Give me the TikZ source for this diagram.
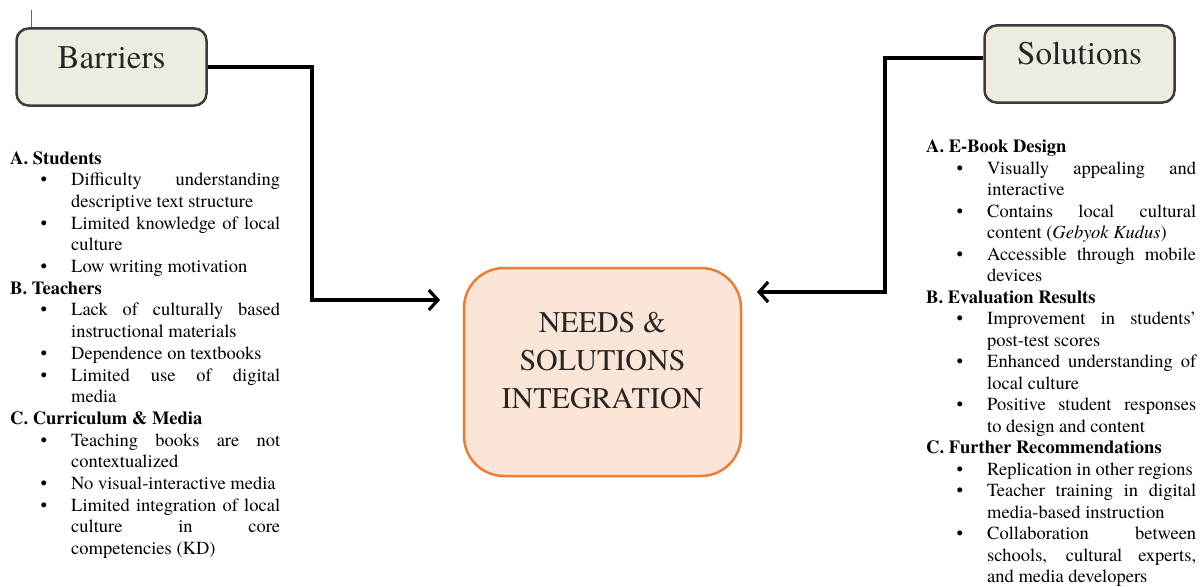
\documentclass[tikz,border=0pt]{standalone}
\usepackage{fontspec}
\setmainfont{TeX Gyre Termes}
\usetikzlibrary{arrows.meta}

\definecolor{titlefill}{HTML}{EEECE1}
\definecolor{titleline}{HTML}{3C3C3C}
\definecolor{needsfill}{HTML}{FBE5D6}
\definecolor{needsline}{HTML}{ED7D31}

% bullet list used in both columns
\newenvironment{pointlist}{%
  \begin{list}{\textbullet}{\setlength{\leftmargin}{61pt}\setlength{\labelsep}{24pt}%
    \setlength{\labelwidth}{10pt}\setlength{\itemsep}{0pt}\setlength{\parsep}{0pt}%
    \setlength{\topsep}{0pt}\setlength{\partopsep}{0pt}}}
  {\end{list}}

\begin{document}
\begin{tikzpicture}[x=1pt,y=-1pt,>={Straight Barb[length=9pt,width=20pt]},
    title box/.style={draw=titleline,line width=2.5pt,fill=titlefill,rounded corners=12pt,
      minimum width=190pt,minimum height=77pt,text=black!85,
      font=\fontsize{33}{38}\selectfont,text height=22pt,text depth=20pt},
    needs box/.style={draw=needsline,line width=2.5pt,fill=needsfill,rounded corners=40pt,
      minimum width=277pt,minimum height=208pt},
    needs text/.style={align=center,text=black!85,font=\fontsize{30}{38}\selectfont},
    list text/.style={anchor=north west,inner sep=0pt,font=\fontsize{18.5}{21.5}\selectfont},
    link/.style={->,line width=3.2pt}]

  \useasboundingbox (0,0) rectangle (1204,586);

  \draw[black!60,line width=1pt] (31,10) -- (31,32);

  \node[title box] (barriers) at (111.5,67) {Barriers};
  \node[title box] (solutions) at (1079.5,64) {Solutions};
  \node[needs box] (needs) at (602.5,372) {};
  \node[needs text] (needslabel) at (602.5,361) {NEEDS \&\\SOLUTIONS\\INTEGRATION};

  \coordinate (barturn) at (312,300);
  \coordinate (barend) at (440,300);
  \coordinate (solturn) at (885,292);
  \coordinate (solend) at (757,292);

  \draw[link] (barriers.east) -| (barturn) -- (barend);
  \draw[link] ([yshift=6pt]solutions.west) -| (solturn) -- (solend);

  \node[list text] (barrierlist) at (10,151) {\begin{minipage}{270pt}
    \fontsize{18.5}{21.7}\selectfont\hyphenpenalty=10000\exhyphenpenalty=10000
    \textbf{A. Students}
    \begin{pointlist}
      \item Difficulty understanding \linebreak descriptive text structure
      \item Limited knowledge of local \linebreak culture
      \item Low writing motivation
    \end{pointlist}
    \textbf{B. Teachers}
    \begin{pointlist}
      \item Lack of culturally based \linebreak instructional materials
      \item Dependence on textbooks
      \item Limited use of digital \linebreak media
    \end{pointlist}
    \textbf{C. Curriculum \& Media}
    \begin{pointlist}
      \item Teaching books are not \linebreak contextualized
      \item No visual-interactive media
      \item Limited integration of local \linebreak culture in core \linebreak competencies (KD)
    \end{pointlist}
  \end{minipage}};

  \node[list text] (solutionlist) at (926,140) {\begin{minipage}{270pt}
    \fontsize{18.5}{21.5}\selectfont\hyphenpenalty=10000\exhyphenpenalty=10000
    \textbf{A. E-Book Design}
    \begin{pointlist}
      \item Visually appealing and \linebreak interactive
      \item Contains local cultural \linebreak content (\textit{Gebyok Kudus})
      \item Accessible through mobile \linebreak devices
    \end{pointlist}
    \textbf{B. Evaluation Results}
    \begin{pointlist}
      \item Improvement in students' \linebreak post-test scores
      \item Enhanced understanding of \linebreak local culture
      \item Positive student responses \linebreak to design and content
    \end{pointlist}
    \textbf{C. Further Recommendations}
    \begin{pointlist}
      \item Replication in other regions
      \item Teacher training in digital \linebreak media-based instruction
      \item Collaboration between \linebreak schools, cultural experts, \linebreak and media developers
    \end{pointlist}
  \end{minipage}};

\end{tikzpicture}
\end{document}
